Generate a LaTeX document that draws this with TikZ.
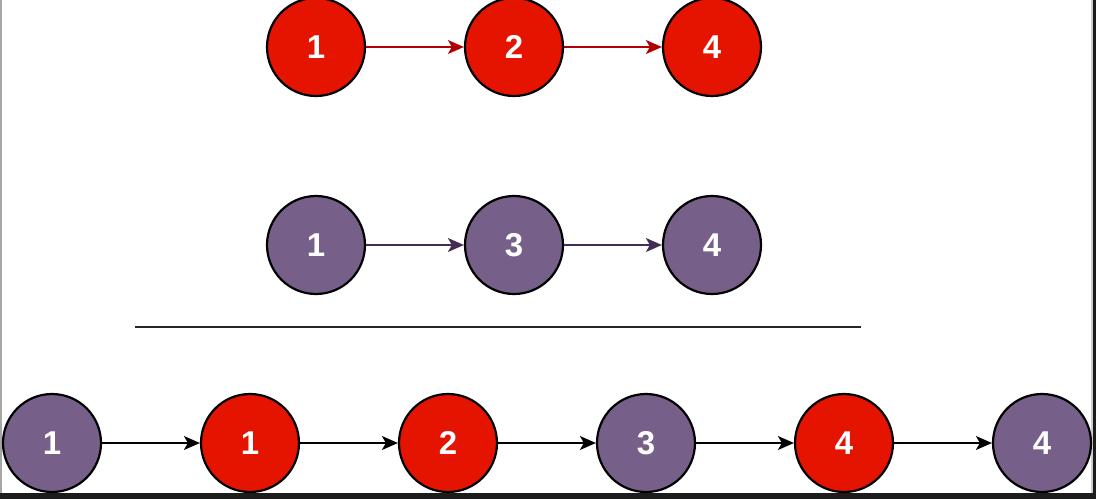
\documentclass[tikz,border=0pt]{standalone}
\usepackage{fontspec}
\setmainfont{Liberation Sans}
\usetikzlibrary{arrows.meta}
\definecolor{nred}{HTML}{E51400}
\definecolor{npurple}{HTML}{76608A}
\definecolor{ared}{HTML}{B20000}
\definecolor{apurple}{HTML}{432D57}
\definecolor{bar}{HTML}{1C1C1C}
\tikzset{
  lnode/.style={circle, draw=black, line width=2.2pt, minimum size=98pt, inner sep=0pt,
    text=white, font=\fontsize{33}{33}\selectfont\bfseries},
  rednode/.style={lnode, fill=nred},
  purnode/.style={lnode, fill=npurple},
  link/.style={line width=1.6pt, -{Stealth[length=16pt,width=14pt,inset=4pt]}},
}
\begin{document}
\begin{tikzpicture}[x=1pt,y=-1pt]
\useasboundingbox (0,0) rectangle (1096,499);
\fill[white] (0,0) rectangle (1096,499);
% screenshot edges
\fill[gray!70] (0,0) rectangle (1.5,493);
\fill[gray!40] (1091,0) rectangle (1093,493);
\fill[bar] (1093,0) rectangle (1096,499);
\fill[bar] (0,493) rectangle (1096,499);
% top row
\node[rednode] (a1) at (316,47) {1};
\node[rednode] (a2) at (514,47) {2};
\node[rednode] (a3) at (712,47) {4};
\draw[link, ared] (a1) -- (a2);
\draw[link, ared] (a2) -- (a3);
% middle row
\node[purnode] (b1) at (316,245) {1};
\node[purnode] (b2) at (514,245) {3};
\node[purnode] (b3) at (712,245) {4};
\draw[link, apurple] (b1) -- (b2);
\draw[link, apurple] (b2) -- (b3);
% separator
\coordinate (s1) at (135,327);
\coordinate (s2) at (861,327);
\draw[line width=2.2pt, black!85] (s1) -- (s2);
% bottom row
\node[purnode] (c1) at (52,443) {1};
\node[rednode] (c2) at (250,443) {1};
\node[rednode] (c3) at (448,443) {2};
\node[purnode] (c4) at (646,443) {3};
\node[rednode] (c5) at (844,443) {4};
\node[purnode] (c6) at (1042,443) {4};
\draw[link, black] (c1) -- (c2);
\draw[link, black] (c2) -- (c3);
\draw[link, black] (c3) -- (c4);
\draw[link, black] (c4) -- (c5);
\draw[link, black] (c5) -- (c6);
\end{tikzpicture}
\end{document}
